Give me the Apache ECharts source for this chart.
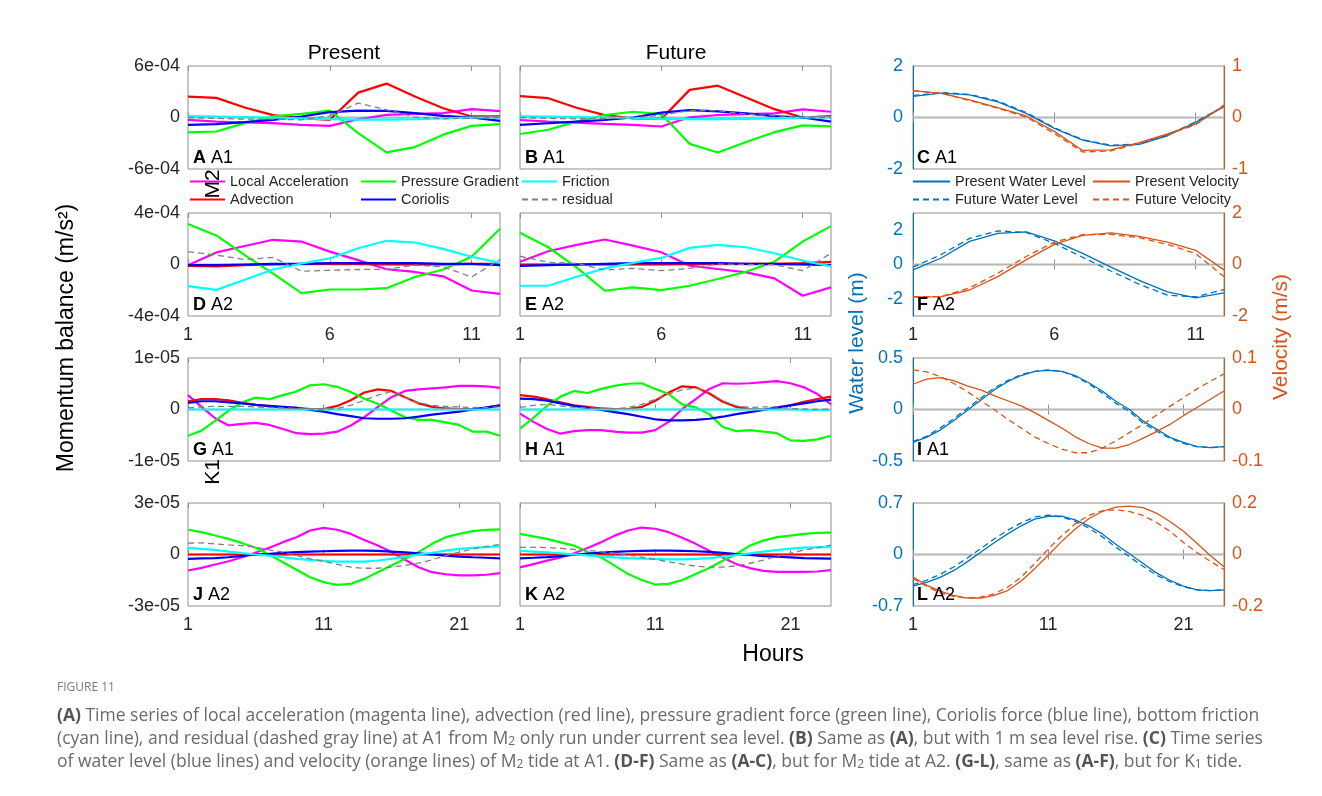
<!DOCTYPE html>
<html>
<head>
<meta charset="utf-8">
<script src="https://cdn.jsdelivr.net/npm/echarts@6/dist/echarts.min.js"></script>
<style>
  html, body { margin: 0; padding: 0; background: #fff; }
  #chart { width: 1322px; height: 796px; }
</style>
</head>
<body>
<div id="chart"></div>
<script>
// ---------- hours ----------
const hoursM2 = [1, 2, 3, 4, 5, 6, 7, 8, 9, 10, 11, 12];
const hoursK1 = [1, 2, 3, 4, 5, 6, 7, 8, 9, 10, 11, 12, 13, 14, 15, 16, 17, 18, 19, 20, 21, 22, 23, 24];
const ticksM2 = [1, 6, 11];
const ticksK1 = [1, 11, 21];

// ---------- M2 momentum terms (units of 1e-4 m/s^2) ----------
// A: A1, present
const A_local = [-0.27, -0.47, -0.58, -0.66, -0.85, -0.97, -0.20, 0.31, 0.43, 0.50, 0.97, 0.74];
const A_adv   = [2.44, 2.29, 1.16, 0.27, -0.08, -0.27, 2.90, 3.95, 2.44, 1.08, 0.12, 0.12];
const A_press = [-1.74, -1.63, -0.66, 0.12, 0.43, 0.81, -1.82, -4.07, -3.45, -2.00, -0.97, -0.78];
const A_cor   = [-0.85, -0.78, -0.54, -0.27, 0.12, 0.62, 0.81, 0.78, 0.50, 0.19, 0.00, -0.39];
const A_fric  = [0.15, 0.10, 0.05, 0.00, -0.10, -0.20, -0.25, -0.25, -0.20, -0.10, 0.00, 0.00];
const A_res   = [0.00, -0.10, -0.20, -0.20, -0.27, 0.20, 1.67, 0.90, 0.04, -0.15, -0.08, 0.00];
// B: A1, future
const B_local = [-0.29, -0.48, -0.59, -0.74, -0.86, -1.05, 0.02, 0.29, 0.40, 0.48, 0.94, 0.67];
const B_adv   = [2.48, 2.25, 1.14, 0.27, -0.10, -0.17, 3.22, 3.71, 2.32, 0.97, 0.00, 0.17];
const B_press = [-1.92, -1.43, -0.48, 0.29, 0.67, 0.40, -3.07, -4.08, -2.86, -1.71, -0.91, -1.03];
const B_cor   = [-0.86, -0.67, -0.48, -0.29, 0.00, 0.57, 0.86, 0.72, 0.48, 0.17, 0.00, -0.48];
const B_fric  = [0.12, 0.10, 0.05, 0.00, -0.05, -0.15, -0.20, -0.20, -0.15, -0.10, 0.00, 0.00];
const B_res   = [0.00, -0.10, -0.15, -0.10, -0.05, 0.30, 0.80, 0.80, 0.40, 0.20, 0.00, 0.00];
// D: A2, present
const D_local = [-0.05, 0.94, 1.44, 1.92, 1.78, 1.00, 0.34, -0.37, -0.58, -0.92, -2.02, -2.28];
const D_adv   = [-0.10, -0.15, -0.05, 0.00, 0.05, 0.05, 0.05, 0.00, 0.00, 0.00, 0.05, 0.05];
const D_press = [3.15, 2.26, 0.73, -0.71, -2.23, -1.94, -1.94, -1.84, -0.97, -0.39, 0.60, 2.78];
const D_cor   = [-0.05, -0.05, 0.00, 0.05, 0.05, 0.10, 0.10, 0.10, 0.10, 0.05, 0.05, -0.05];
const D_fric  = [-1.68, -1.97, -1.18, -0.39, 0.08, 0.47, 1.26, 1.84, 1.71, 1.21, 0.60, 0.13];
const D_res   = [1.00, 0.73, 0.39, 0.55, -0.52, -0.45, -0.39, -0.37, -0.05, -0.18, -0.97, 0.39];
// E: A2, future
const E_local = [0.22, 1.03, 1.52, 1.94, 1.47, 0.95, -0.09, -0.35, -0.61, -1.08, -2.43, -1.78];
const E_adv   = [0.00, 0.00, 0.00, 0.00, 0.00, 0.00, 0.05, 0.05, 0.05, 0.05, 0.10, 0.20];
const E_press = [2.46, 1.34, -0.22, -2.04, -1.78, -1.99, -1.65, -1.13, -0.56, 0.22, 1.78, 2.98];
const E_cor   = [-0.10, -0.05, 0.00, 0.05, 0.10, 0.10, 0.10, 0.10, 0.05, 0.05, 0.00, -0.05];
const E_fric  = [-1.65, -1.65, -0.95, -0.30, 0.12, 0.51, 1.29, 1.52, 1.34, 0.87, 0.30, -0.14];
const E_res   = [0.64, 0.17, 0.09, -0.43, -0.30, -0.48, -0.30, 0.04, 0.00, -0.02, -0.48, 0.87];

// ---------- K1 momentum terms (units of 1e-6 m/s^2) ----------
// G: A1, present
const G_local = [2.8, 0.5, -1.7, -3.1, -2.8, -2.6, -3.0, -3.8, -4.6, -4.8, -4.7, -4.3, -3.1, -1.5, 0.5, 2.4, 3.6, 3.9, 4.1, 4.3, 4.6, 4.6, 4.5, 4.2];
const G_adv   = [1.6, 2.0, 2.0, 1.8, 1.3, 0.9, 0.6, 0.4, 0.3, 0.1, 0.1, 0.7, 1.8, 3.3, 3.9, 3.6, 2.4, 1.2, 0.5, 0.2, 0.1, 0.1, 0.3, 0.8];
const G_press = [-5.1, -4.1, -2.2, -0.2, 1.4, 2.3, 2.0, 2.8, 3.5, 4.7, 4.9, 4.4, 3.4, 2.1, 1.1, -0.2, -1.5, -2.0, -2.0, -2.5, -3.0, -4.3, -4.3, -5.1];
const G_cor   = [1.3, 1.6, 1.6, 1.4, 1.2, 0.9, 0.7, 0.5, 0.3, -0.1, -0.4, -0.9, -1.3, -1.7, -1.8, -1.8, -1.7, -1.4, -1.0, -0.7, -0.4, 0.0, 0.4, 0.8];
const G_fric  = [0.0, 0.0, 0.0, 0.0, 0.0, 0.0, 0.0, 0.0, 0.0, 0.0, 0.0, 0.0, 0.0, 0.0, 0.0, 0.0, 0.0, 0.0, 0.0, 0.0, 0.0, 0.0, 0.0, 0.0];
const G_res   = [0.3, 0.5, 0.6, 0.6, 0.6, 0.5, 0.4, 0.3, 0.2, 0.1, 0.0, 0.2, 0.8, 1.8, 2.8, 3.5, 2.4, 1.3, 0.8, 0.6, 0.5, 0.4, 0.4, 0.5];
// H: A1, future
const H_local = [-0.8, -2.4, -3.8, -4.7, -4.2, -4.0, -4.0, -4.3, -4.5, -4.5, -4.0, -2.4, 0.1, 2.0, 4.0, 5.1, 5.0, 5.1, 5.3, 5.5, 5.1, 4.3, 3.0, 1.0];
const H_adv   = [2.8, 2.5, 2.0, 1.4, 0.8, 0.5, 0.2, 0.1, 0.1, 0.5, 1.7, 3.3, 4.5, 4.3, 3.1, 1.5, 0.5, 0.1, 0.0, 0.2, 0.8, 1.5, 2.0, 2.5];
const H_press = [-3.7, -1.6, 0.7, 2.5, 3.6, 3.2, 4.0, 4.6, 5.0, 5.1, 4.0, 3.0, 1.0, 0.4, -0.9, -3.4, -4.2, -4.0, -4.3, -4.6, -6.0, -6.1, -5.8, -5.1];
const H_cor   = [2.1, 2.0, 1.7, 1.2, 0.7, 0.3, -0.1, -0.5, -0.9, -1.4, -1.9, -2.1, -2.1, -2.0, -1.8, -1.4, -0.9, -0.5, -0.1, 0.4, 0.8, 1.2, 1.6, 1.9];
const H_fric  = [0.0, 0.0, 0.0, 0.0, 0.0, 0.0, 0.0, 0.0, 0.0, 0.0, 0.0, 0.0, 0.0, 0.0, 0.0, 0.0, 0.0, 0.0, 0.0, 0.0, 0.0, -0.1, -0.1, -0.1];
const H_res   = [0.4, 0.8, 1.0, 0.7, 0.4, 0.3, 0.2, 0.1, 0.4, 1.0, 2.0, 3.0, 3.8, 4.2, 3.3, 1.7, 0.7, 0.4, 0.5, 0.5, 0.2, 0.1, 0.0, 0.1];
// J: A2, present
const J_local = [-9.3, -7.8, -5.8, -3.9, -1.6, 1.2, 3.9, 7.2, 10.1, 14.0, 15.5, 14.4, 12.0, 8.5, 5.2, 1.4, -3.1, -7.4, -10.3, -11.5, -12.2, -12.2, -11.8, -10.9];
const J_adv   = [0.0, 0.0, 0.0, 0.0, 0.0, 0.0, 0.0, 0.0, 0.0, 0.0, 0.0, 0.0, 0.0, 0.0, 0.0, 0.0, 0.0, 0.0, 0.0, 0.0, 0.0, 0.0, 0.0, 0.0];
const J_press = [14.4, 13.0, 11.1, 9.1, 6.6, 3.9, -0.2, -4.5, -8.9, -13.2, -16.1, -17.7, -17.1, -14.2, -10.3, -6.4, -2.5, 1.4, 6.2, 10.1, 12.0, 13.6, 14.4, 14.6];
const J_cor   = [-2.5, -2.3, -2.1, -1.6, -0.8, 0.0, 0.4, 1.0, 1.4, 1.7, 1.9, 2.1, 2.3, 2.3, 2.1, 1.7, 1.2, 0.6, 0.0, -0.6, -1.2, -1.6, -1.9, -2.3];
const J_fric  = [3.9, 3.3, 2.7, 1.7, 0.8, 0.0, -0.6, -1.6, -2.5, -3.1, -3.7, -4.1, -4.1, -4.1, -3.5, -2.5, -1.2, 0.0, 1.0, 2.3, 3.3, 3.9, 4.3, 4.7];
const J_res   = [6.6, 6.8, 6.2, 5.6, 5.2, 4.3, 2.7, 1.4, -0.6, -2.5, -3.9, -5.8, -7.4, -8.0, -8.0, -7.4, -6.4, -5.0, -3.1, -0.6, 1.4, 3.3, 4.7, 5.8];
// K: A2, future
const K_local = [-7.5, -5.6, -3.6, -1.7, 0.7, 3.8, 7.1, 11.0, 14.0, 15.7, 15.0, 13.0, 9.7, 6.2, 2.2, -1.7, -5.6, -7.9, -9.5, -10.1, -10.1, -10.1, -9.9, -9.1];
const K_adv   = [0.0, 0.0, 0.0, 0.0, 0.0, 0.0, 0.0, 0.0, 0.0, 0.0, 0.0, 0.0, 0.0, 0.0, 0.0, 0.0, 0.0, 0.0, 0.0, 0.0, 0.0, 0.0, 0.0, 0.0];
const K_press = [12.0, 10.6, 9.1, 7.1, 5.2, 1.5, -1.7, -6.5, -11.4, -14.9, -17.5, -17.1, -14.9, -11.4, -7.9, -3.6, 0.3, 5.2, 8.1, 10.1, 11.0, 12.0, 12.6, 12.8];
const K_cor   = [-2.2, -1.9, -1.5, -0.9, -0.1, 0.5, 1.1, 1.5, 1.9, 2.1, 2.2, 2.2, 2.1, 1.9, 1.5, 0.9, 0.3, -0.3, -0.9, -1.3, -1.7, -2.1, -2.2, -2.4];
const K_fric  = [2.2, 1.7, 1.3, 0.7, 0.1, -0.5, -1.1, -1.7, -2.1, -2.4, -2.6, -2.8, -2.8, -2.6, -2.1, -1.3, -0.3, 0.7, 1.7, 2.6, 3.4, 4.0, 4.2, 4.4];
const K_res   = [4.2, 4.2, 4.0, 3.6, 3.0, 2.4, 1.6, 0.8, -0.3, -1.6, -2.9, -4.3, -5.6, -6.8, -7.4, -7.4, -6.6, -5.1, -3.3, -1.2, 0.8, 2.6, 4.0, 5.5];

// ---------- water level (m) and velocity (m/s) ----------
const C_wlP  = [0.82, 0.95, 0.88, 0.61, 0.16, -0.42, -0.88, -1.10, -1.04, -0.71, -0.19, 0.42];
const C_wlF  = [0.85, 0.97, 0.90, 0.64, 0.20, -0.40, -0.86, -1.08, -1.03, -0.68, -0.17, 0.44];
const C_velP = [0.52, 0.47, 0.34, 0.19, 0.03, -0.27, -0.64, -0.63, -0.49, -0.32, -0.13, 0.23];
const C_velF = [0.52, 0.47, 0.33, 0.18, 0.01, -0.31, -0.67, -0.65, -0.50, -0.33, -0.14, 0.24];

const F_wlP  = [-0.31, 0.38, 1.35, 1.81, 1.90, 1.38, 0.65, -0.15, -0.92, -1.60, -1.94, -1.65];
const F_wlF  = [-0.15, 0.58, 1.52, 1.96, 1.87, 1.23, 0.42, -0.38, -1.15, -1.79, -1.88, -1.46];
const F_velP = [-1.27, -1.25, -0.99, -0.47, 0.18, 0.78, 1.13, 1.23, 1.09, 0.87, 0.55, -0.21];
const F_velF = [-1.25, -1.25, -0.91, -0.34, 0.31, 0.87, 1.16, 1.17, 1.04, 0.78, 0.42, -0.47];

const I_wlP  = [-0.32, -0.27, -0.20, -0.11, -0.01, 0.09, 0.19, 0.27, 0.33, 0.37, 0.38, 0.37, 0.33, 0.26, 0.18, 0.08, 0.00, -0.11, -0.19, -0.27, -0.32, -0.36, -0.37, -0.36];
const I_wlF  = [-0.31, -0.26, -0.18, -0.09, 0.01, 0.11, 0.21, 0.28, 0.34, 0.37, 0.385, 0.37, 0.32, 0.25, 0.16, 0.06, -0.02, -0.13, -0.21, -0.28, -0.33, -0.36, -0.37, -0.36];
const I_velP = [0.049, 0.059, 0.062, 0.056, 0.046, 0.038, 0.027, 0.017, 0.007, -0.006, -0.021, -0.036, -0.053, -0.066, -0.075, -0.075, -0.068, -0.056, -0.043, -0.029, -0.012, 0.004, 0.020, 0.036];
const I_velF = [0.077, 0.073, 0.064, 0.051, 0.035, 0.017, 0.000, -0.019, -0.036, -0.053, -0.066, -0.077, -0.084, -0.084, -0.075, -0.061, -0.045, -0.029, -0.011, 0.006, 0.023, 0.040, 0.055, 0.069];

const L_wlP  = [-0.43, -0.38, -0.31, -0.22, -0.10, 0.03, 0.16, 0.28, 0.39, 0.48, 0.52, 0.52, 0.47, 0.39, 0.28, 0.14, 0.01, -0.12, -0.25, -0.35, -0.43, -0.48, -0.49, -0.48];
const L_wlF  = [-0.41, -0.35, -0.27, -0.17, -0.05, 0.08, 0.21, 0.33, 0.43, 0.51, 0.535, 0.51, 0.45, 0.36, 0.24, 0.10, -0.03, -0.16, -0.28, -0.37, -0.44, -0.48, -0.49, -0.48];
const L_velP = [-0.088, -0.119, -0.142, -0.159, -0.169, -0.169, -0.159, -0.140, -0.103, -0.055, -0.003, 0.051, 0.099, 0.139, 0.167, 0.184, 0.188, 0.182, 0.161, 0.128, 0.090, 0.044, -0.005, -0.048];
const L_velF = [-0.093, -0.123, -0.149, -0.163, -0.170, -0.166, -0.153, -0.127, -0.088, -0.035, 0.021, 0.073, 0.119, 0.152, 0.169, 0.174, 0.167, 0.152, 0.125, 0.090, 0.047, 0.008, -0.027, -0.058];

// ---------- caption ----------
const captionTitle = 'FIGURE 11';
const captionLines = [
  '{b|(A)} Time series of local acceleration (magenta line), advection (red line), pressure gradient force (green line), Coriolis force (blue line), bottom friction',
  '(cyan line), and residual (dashed gray line) at A1 from M{s|2} only run under current sea level. {b|(B)} Same as {b|(A)}, but with 1 m sea level rise. {b|(C)} Time series',
  'of water level (blue lines) and velocity (orange lines) of M{s|2} tide at A1. {b|(D-F)} Same as {b|(A-C)}, but for M{s|2} tide at A2. {b|(G-L)}, same as {b|(A-F)}, but for K{s|1} tide.'
];

// ---------- styling ----------
const FONT = '"Liberation Sans", Arial, Helvetica, sans-serif';
const INK = '#262626';
const BOX = '#8f8f8f';
const WL_BLUE = '#0072BD';
const VEL_ORANGE = '#D95319';

const terms = [
  { key: 'local', name: 'Local Acceleration', color: '#ff00ff' },
  { key: 'adv',   name: 'Advection',          color: '#ff0000' },
  { key: 'press', name: 'Pressure Gradient',  color: '#00ff00' },
  { key: 'cor',   name: 'Coriolis',           color: '#0000ff' },
  { key: 'fric',  name: 'Friction',           color: '#00ffff' },
  { key: 'res',   name: 'residual',           color: '#808080', dashed: true }
];

const colsLayout = [{ left: 188, width: 312 }, { left: 520, width: 311 }, { left: 913, width: 311 }];
const rowTops = [66, 213, 358, 503];
const ROW_H = 103;

const momPanels = [
  { id: 'A', site: 'A1', col: 0, row: 0, tide: 'M2', unit: 1e-4, lim: 6e-4, d: { local: A_local, adv: A_adv, press: A_press, cor: A_cor, fric: A_fric, res: A_res } },
  { id: 'B', site: 'A1', col: 1, row: 0, tide: 'M2', unit: 1e-4, lim: 6e-4, d: { local: B_local, adv: B_adv, press: B_press, cor: B_cor, fric: B_fric, res: B_res } },
  { id: 'D', site: 'A2', col: 0, row: 1, tide: 'M2', unit: 1e-4, lim: 4e-4, d: { local: D_local, adv: D_adv, press: D_press, cor: D_cor, fric: D_fric, res: D_res } },
  { id: 'E', site: 'A2', col: 1, row: 1, tide: 'M2', unit: 1e-4, lim: 4e-4, d: { local: E_local, adv: E_adv, press: E_press, cor: E_cor, fric: E_fric, res: E_res } },
  { id: 'G', site: 'A1', col: 0, row: 2, tide: 'K1', unit: 1e-6, lim: 1e-5, d: { local: G_local, adv: G_adv, press: G_press, cor: G_cor, fric: G_fric, res: G_res } },
  { id: 'H', site: 'A1', col: 1, row: 2, tide: 'K1', unit: 1e-6, lim: 1e-5, d: { local: H_local, adv: H_adv, press: H_press, cor: H_cor, fric: H_fric, res: H_res } },
  { id: 'J', site: 'A2', col: 0, row: 3, tide: 'K1', unit: 1e-6, lim: 3e-5, d: { local: J_local, adv: J_adv, press: J_press, cor: J_cor, fric: J_fric, res: J_res } },
  { id: 'K', site: 'A2', col: 1, row: 3, tide: 'K1', unit: 1e-6, lim: 3e-5, d: { local: K_local, adv: K_adv, press: K_press, cor: K_cor, fric: K_fric, res: K_res } }
];

const wvPanels = [
  { id: 'C', site: 'A1', row: 0, tide: 'M2', wl: [-2, 2], wlTicks: [-2, 0, 2], vel: [-1, 1], velTicks: [-1, 0, 1], wlP: C_wlP, wlF: C_wlF, velP: C_velP, velF: C_velF },
  { id: 'F', site: 'A2', row: 1, tide: 'M2', wl: [-3, 3], wlTicks: [-2, 0, 2], vel: [-2, 2], velTicks: [-2, 0, 2], wlP: F_wlP, wlF: F_wlF, velP: F_velP, velF: F_velF },
  { id: 'I', site: 'A1', row: 2, tide: 'K1', wl: [-0.5, 0.5], wlTicks: [-0.5, 0, 0.5], vel: [-0.1, 0.1], velTicks: [-0.1, 0, 0.1], wlP: I_wlP, wlF: I_wlF, velP: I_velP, velF: I_velF },
  { id: 'L', site: 'A2', row: 3, tide: 'K1', wl: [-0.7, 0.7], wlTicks: [-0.7, 0, 0.7], vel: [-0.2, 0.2], velTicks: [-0.2, 0, 0.2], wlP: L_wlP, wlF: L_wlF, velP: L_velP, velF: L_velF }
];

function expLabel(v) {
  if (Math.abs(v) < 1e-15) return '0';
  const parts = v.toExponential(0).split('e');
  const n = parseInt(parts[1], 10);
  return parts[0] + 'e' + (n < 0 ? '-' : '+') + String(Math.abs(n)).padStart(2, '0');
}

const grids = [], xAxes = [], yAxes = [], series = [], graphics = [];

function addGrid(left, width, top) {
  grids.push({ left: left, top: top, width: width, height: ROW_H, show: true,
    borderColor: BOX, borderWidth: 1, backgroundColor: '#fff', containLabel: false });
  return grids.length - 1;
}

function addXAxes(gi, tide, showLabels) {
  const hrs = tide === 'M2' ? hoursM2 : hoursK1;
  const ticks = tide === 'M2' ? ticksM2 : ticksK1;
  const base = { gridIndex: gi, type: 'value', min: hrs[0], max: hrs[hrs.length - 1],
    axisLine: { show: false }, splitLine: { show: false } };
  xAxes.push(Object.assign({}, base, { position: 'bottom',
    axisTick: { show: true, inside: true, length: 5, customValues: ticks, lineStyle: { color: BOX } },
    axisLabel: { show: showLabels, customValues: ticks, fontSize: 18, color: INK, fontFamily: FONT, margin: 10 } }));
  xAxes.push(Object.assign({}, base, { position: 'top',
    axisTick: { show: true, inside: true, length: 5, customValues: ticks, lineStyle: { color: BOX } },
    axisLabel: { show: false } }));
  return xAxes.length - 2;
}

function zeroSeries(xi, yi, hrs) {
  return { type: 'line', xAxisIndex: xi, yAxisIndex: yi, z: 1, silent: true, symbol: 'none',
    lineStyle: { color: '#b5b5b5', width: 2 }, data: [[hrs[0], 0], [hrs[hrs.length - 1], 0]] };
}

function panelLabel(letter, site, left, bottom) {
  graphics.push({ type: 'text', left: left, top: bottom - 20, z: 100,
    style: { text: '{b|' + letter + '} ' + site, fill: '#000', font: '18px ' + FONT,
      rich: { b: { fontWeight: 'bold', fontSize: 18, fontFamily: FONT, fill: '#000' } } } });
}

// momentum balance panels
momPanels.forEach(p => {
  const lay = colsLayout[p.col];
  const top = rowTops[p.row];
  const gi = addGrid(lay.left, lay.width, top);
  const xi = addXAxes(gi, p.tide, p.row === 1 || p.row === 3);
  const hrs = p.tide === 'M2' ? hoursM2 : hoursK1;
  yAxes.push({ gridIndex: gi, type: 'value', min: -p.lim, max: p.lim,
    axisLine: { show: false }, axisTick: { show: false }, splitLine: { show: false },
    axisLabel: { show: p.col === 0, customValues: [-p.lim, 0, p.lim], formatter: expLabel,
      fontSize: 18, color: INK, fontFamily: FONT, margin: 8 } });
  const yi = yAxes.length - 1;
  series.push(zeroSeries(xi, yi, hrs));
  terms.forEach(t => {
    series.push({ type: 'line', name: t.name, xAxisIndex: xi, yAxisIndex: yi, symbol: 'none',
      z: 2, color: t.color,
      lineStyle: t.dashed ? { color: t.color, width: 1.3, type: [6, 4] } : { color: t.color, width: 2.2 },
      data: hrs.map((h, i) => [h, p.d[t.key][i] * p.unit]) });
  });
  panelLabel(p.id, p.site, lay.left + 5, top + ROW_H);
});

// water level / velocity panels
wvPanels.forEach(p => {
  const lay = colsLayout[2];
  const top = rowTops[p.row];
  const gi = addGrid(lay.left, lay.width, top);
  const xi = addXAxes(gi, p.tide, p.row === 1 || p.row === 3);
  const hrs = p.tide === 'M2' ? hoursM2 : hoursK1;
  yAxes.push({ gridIndex: gi, type: 'value', position: 'left', min: p.wl[0], max: p.wl[1],
    axisLine: { show: true, lineStyle: { color: WL_BLUE, width: 1 } }, axisTick: { show: false }, splitLine: { show: false },
    axisLabel: { customValues: p.wlTicks, fontSize: 18, color: WL_BLUE, fontFamily: FONT, margin: 10 } });
  const yl = yAxes.length - 1;
  yAxes.push({ gridIndex: gi, type: 'value', position: 'right', min: p.vel[0], max: p.vel[1],
    axisLine: { show: true, lineStyle: { color: VEL_ORANGE, width: 1 } }, axisTick: { show: false }, splitLine: { show: false },
    axisLabel: { customValues: p.velTicks, fontSize: 18, color: VEL_ORANGE, fontFamily: FONT, margin: 8 } });
  const yr = yAxes.length - 1;
  series.push(zeroSeries(xi, yl, hrs));
  const mk = (name, arr, yi, color, dashed) => ({
    type: 'line', name: name, xAxisIndex: xi, yAxisIndex: yi, symbol: 'none', z: 2, color: color,
    lineStyle: { color: color, width: 1.3, type: dashed ? [6, 4] : 'solid' },
    data: hrs.map((h, i) => [h, arr[i]]) });
  series.push(mk('Present Water Level', p.wlP, yl, WL_BLUE, false));
  series.push(mk('Future Water Level', p.wlF, yl, WL_BLUE, true));
  series.push(mk('Present Velocity', p.velP, yr, VEL_ORANGE, false));
  series.push(mk('Future Velocity', p.velF, yr, VEL_ORANGE, true));
  panelLabel(p.id, p.site, lay.left + 4, top + ROW_H);
});

// legends, one entry each so they sit in fixed columns; line only, no marker
function legendAt(name, left, cy, iw) {
  return { data: [name], left: left, top: cy - 8, padding: 0, itemWidth: iw, itemHeight: 16,
    itemGap: 0, selectedMode: false, itemStyle: { opacity: 0 },
    textStyle: { fontSize: 14.5, color: INK, fontFamily: FONT, padding: [0, 0, 0, 0] } };
}
const legends = [
  legendAt('Local Acceleration', 189, 182, 35),
  legendAt('Pressure Gradient', 360, 182, 35),
  legendAt('Friction', 521, 182, 35),
  legendAt('Advection', 189, 200, 35),
  legendAt('Coriolis', 360, 200, 35),
  legendAt('residual', 521, 200, 35),
  legendAt('Present Water Level', 912, 182, 37),
  legendAt('Present Velocity', 1092, 182, 37),
  legendAt('Future Water Level', 912, 200, 37),
  legendAt('Future Velocity', 1092, 200, 37)
];

// titles and axis names
const txt = (text, x, y, size, color, rot) => ({
  type: 'text', x: x, y: y, rotation: rot || 0, z: 100,
  style: { text: text, fill: color, font: size + 'px ' + FONT, align: 'center', verticalAlign: 'middle' }
});
graphics.push(txt('Present', 344, 53, 21, '#000'));
graphics.push(txt('Future', 676, 53, 21, '#000'));
graphics.push(txt('Hours', 773, 655, 23, '#000'));
graphics.push(txt('Momentum balance (m/s²)', 67, 338, 23, '#000', Math.PI / 2));
graphics.push(txt('Water level (m)', 857, 343, 21, WL_BLUE, Math.PI / 2));
graphics.push(txt('Velocity (m/s)', 1281, 337, 21, VEL_ORANGE, Math.PI / 2));
graphics.push(txt('M2', 213, 184, 21, '#000', Math.PI / 2));
graphics.push(txt('K1', 213, 472, 21, '#000', Math.PI / 2));

// caption
const CAP_FONT = '"Open Sans", "Noto Sans", sans-serif';
graphics.push({ type: 'text', x: 57, y: 688, z: 100,
  style: { text: captionTitle, fill: '#7a7a7a', font: '12px ' + CAP_FONT, verticalAlign: 'middle' } });
captionLines.forEach((line, i) => {
  graphics.push({ type: 'text', x: 57, y: 716 + i * 23, z: 100,
    style: { text: line, fill: '#6a6a6a', font: '17.5px ' + CAP_FONT, verticalAlign: 'middle',
      rich: {
        b: { fontWeight: 'bold', fontSize: 17.5, fontFamily: CAP_FONT, fill: '#555555' },
        s: { fontSize: 12, fontFamily: CAP_FONT, fill: '#6a6a6a', verticalAlign: 'bottom', lineHeight: 16 }
      } } });
});

const chart = echarts.init(document.getElementById('chart'), null, { renderer: 'canvas' });
chart.setOption({
  animation: false,
  backgroundColor: '#ffffff',
  grid: grids,
  xAxis: xAxes,
  yAxis: yAxes,
  legend: legends,
  series: series,
  graphic: { elements: graphics }
});
</script>
</body>
</html>
